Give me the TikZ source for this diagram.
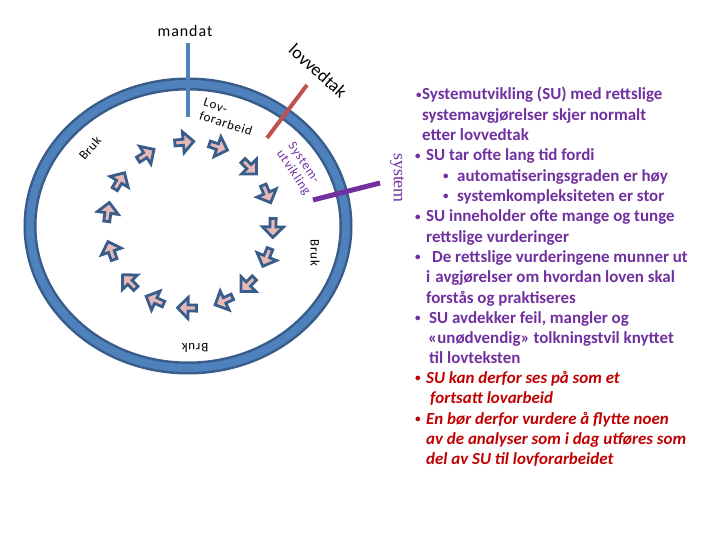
\documentclass[tikz,border=0pt]{standalone}
\usepackage{fontspec}
\setmainfont{Carlito}
\newfontfamily\labelfont[LetterSpace=6]{Carlito}
\newfontfamily\seriffont{Liberation Serif}
\usepackage{tikz}
\usetikzlibrary{shapes.arrows,calc}
\usepackage{xcolor}

\definecolor{ringblue}{HTML}{4F81BD}
\definecolor{ringdark}{HTML}{385D8A}
\definecolor{arrowpink}{HTML}{E6B9B8}
\definecolor{lawred}{HTML}{C0504D}
\definecolor{supurple}{HTML}{7030A0}
\definecolor{textred}{HTML}{C00000}

% small bullet for the list
\newcommand{\smallbul}{\raisebox{1.5bp}{\fontsize{11}{11}\selectfont\textbullet}}

\begin{document}
\begin{tikzpicture}[
    x=1bp, y=1bp,
    flowarrow/.style={single arrow, draw=ringdark, fill=arrowpink, line width=2.8bp, inner sep=0pt, minimum height=19bp, minimum width=21bp, single arrow head extend=3.5bp},
    ringlabel/.style={font=\labelfont\fontsize{13}{14}\selectfont, inner sep=0pt, align=left},
    infotext/.style={font=\fontsize{17}{20.4}\selectfont\bfseries, align=left, inner sep=0pt, anchor=north west}
]
\useasboundingbox (0,0) rectangle (720,540);

% the cycle
\draw[ringdark, line width=13bp] (188,314) ellipse [x radius=158, y radius=142];
\draw[ringblue, line width=8bp] (188,314) ellipse [x radius=158, y radius=142];

\foreach \a [count=\i] in {95,71,45,23,-1,-22,-45,-65,-91,-114,-136,-161,172,149,123}
    \node[flowarrow, rotate=\a-90] (arrow\i) at ($(190,315)+(\a:83)$) {};

% marks on the ring
\draw[ringblue, line width=4bp] (188,497) -- (188,423);
\draw[lawred, line width=4bp] (307,455) -- (267,402);
\draw[supurple, line width=5bp] (313,340) -- (380,357);

\node[ringlabel, font=\labelfont\fontsize{16}{17}\selectfont] (mandat) at (185,509) {mandat};
\node[ringlabel, font=\fontsize{18}{19}\selectfont, rotate=-42] (lovvedtak) at (318,469) {lovvedtak};
\node[ringlabel, rotate=-18] (forarbeid) at (228,423) {Lov-\\forarbeid};
\node[ringlabel, text=supurple, rotate=-56] (utvikling) at (299,371) {System-\\utvikling};
\node[ringlabel, font=\seriffont\fontsize{18}{19}\selectfont, text=supurple, rotate=-90] (system) at (397,362) {system};
\node[ringlabel, rotate=49] (bruk1) at (90,392) {Bruk};
\node[ringlabel, rotate=-90] (bruk2) at (315,287) {Bruk};
\node[ringlabel, rotate=180] (bruk3) at (195,192) {Bruk};

% text on the right
\node[infotext, text=supurple] (points) at (415,453) {%
\hspace*{1bp}\makebox[6bp][l]{\smallbul}Systemutvikling (SU) med rettslige\\
\hspace*{7bp}systemavgjørelser skjer normalt\\
\hspace*{7bp}etter lovvedtak\\
\makebox[11bp][l]{\smallbul}SU tar ofte lang tid fordi\\
\hspace*{28bp}\makebox[14bp][l]{\smallbul}automatiseringsgraden er høy\\
\hspace*{28bp}\makebox[14bp][l]{\smallbul}systemkompleksiteten er stor\\
\makebox[11bp][l]{\smallbul}SU inneholder ofte mange og tunge\\
\hspace*{11bp}rettslige vurderinger\\
\makebox[17bp][l]{\smallbul}De rettslige vurderingene munner ut\\
\hspace*{11bp}i\hspace{5bp}avgjørelser om hvordan loven skal\\
\hspace*{11bp}forstås og praktiseres\\
\makebox[14bp][l]{\smallbul}SU avdekker feil, mangler og\\
\hspace*{13bp}«unødvendig» tolkningstvil knyttet\\
\hspace*{14bp}til lovteksten};
\node[infotext, text=textred, font=\fontsize{17}{20.4}\selectfont\bfseries\itshape] (advice) at (415,169) {%
\makebox[11bp][l]{\smallbul}SU kan derfor ses på som et\\
\hspace*{15bp}fortsatt lovarbeid\\
\makebox[11bp][l]{\smallbul}En bør derfor vurdere å flytte noen\\
\hspace*{11bp}av de analyser som i dag utføres som\\
\hspace*{11bp}del av SU til lovforarbeidet};
\end{tikzpicture}
\end{document}
